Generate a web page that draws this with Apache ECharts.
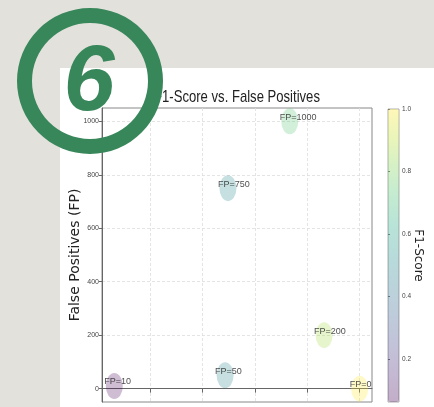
<!DOCTYPE html>
<html>
<head>
<meta charset="utf-8">
<script src="https://cdn.jsdelivr.net/npm/echarts@6/dist/echarts.min.js"></script>
<style>
html,body{margin:0;padding:0;background:#e3e1dc;}
#chart{width:434px;height:407px;}
</style>
</head>
<body>
<div id="chart"></div>
<script>
// ---- data ----
var fpValues = [10, 50, 750, 1000, 200, 0];
var f1Scores = [0.063, 0.486, 0.497, 0.733, 0.864, 1.0];
var xTicks = [0.2, 0.4, 0.6, 0.8, 1.0];
var yTicks = [0, 200, 400, 600, 800, 1000];
var cbTicks = [0.2, 0.4, 0.6, 0.8, 1.0];
var titleText = 'F1-Score vs. False Positives';
var yName = 'False Positives (FP)';
var cbName = 'F1-Score';

var viridis = ['#440154', '#482475', '#414487', '#355f8d', '#2a788e', '#21918c', '#22a884', '#44bf70', '#7ad151', '#bddf26', '#fde725'];
function withAlpha(hex, a) {
  var r = parseInt(hex.substr(1, 2), 16), g = parseInt(hex.substr(3, 2), 16), b = parseInt(hex.substr(5, 2), 16);
  return 'rgba(' + r + ',' + g + ',' + b + ',' + a + ')';
}
var paleViridis = viridis.map(function (c) { return withAlpha(c, 0.32); });

var points = f1Scores.map(function (f, i) { return [f, fpValues[i], 'FP=' + fpValues[i]]; });
var f1Min = Math.min.apply(null, f1Scores), f1Max = Math.max.apply(null, f1Scores);
var xPad = (f1Max - f1Min) * 0.05;

var sans = '"Liberation Sans", Arial, sans-serif';
var green = '#38875a';

var chart = echarts.init(document.getElementById('chart'));
chart.setOption({
  backgroundColor: '#e3e1dc',
  animation: false,
  graphic: [
    { type: 'rect', z: -10, shape: { x: 60, y: 68, width: 380, height: 350 }, style: { fill: '#ffffff' } },
    { type: 'text', z: 1, x: 237, y: 97, scaleX: 0.77,
      style: { text: titleText, x: 0, y: 0, font: '17px "Liberation Sans"', fill: '#222', align: 'center', verticalAlign: 'middle', textAlign: 'center', textVerticalAlign: 'middle' } },
    { type: 'ring', z: 100, shape: { cx: 90, cy: 81, r: 73, r0: 58 }, style: { fill: green } },
    { type: 'text', z: 100, style: { text: '6', x: 89, y: 85, font: 'italic bold 92px "Liberation Sans"', fill: green, align: 'center', verticalAlign: 'middle', textAlign: 'center', textVerticalAlign: 'middle' } }
  ],
  grid: [
    { left: 102, right: 62, top: 108, bottom: 5, outerBoundsMode: 'none', containLabel: false, show: true, borderColor: '#888', borderWidth: 1, backgroundColor: 'transparent' },
    { left: 388, top: 109, width: 11, height: 293, outerBoundsMode: 'none', containLabel: false, show: true, borderColor: '#999', borderWidth: 0.8 }
  ],
  xAxis: [
    {
      type: 'value', gridIndex: 0,
      min: +(f1Min - xPad).toFixed(3), max: +(f1Max + xPad).toFixed(3),
      axisLine: { show: true, lineStyle: { color: '#666' } },
      axisTick: { show: true, length: 4, customValues: xTicks, lineStyle: { color: '#666' } },
      axisLabel: { show: true, customValues: xTicks, fontFamily: sans, fontSize: 7, color: '#444', formatter: function (v) { return v.toFixed(1); } },
      splitLine: { show: true, lineStyle: { color: '#ddd', type: [3, 2], width: 0.8 } }
    },
    { type: 'value', gridIndex: 1, min: 0, max: 1, show: false }
  ],
  yAxis: [
    {
      type: 'value', gridIndex: 0, min: -50, max: 1050,
      name: yName, nameLocation: 'middle', nameGap: 20, nameMoveOverlap: false,
      nameTextStyle: { fontFamily: 'DejaVu Sans', fontSize: 14, color: '#222' },
      axisLine: { show: true, lineStyle: { color: '#666' } },
      axisTick: { show: true, length: 3, customValues: yTicks, lineStyle: { color: '#666' } },
      axisLabel: { customValues: yTicks, margin: 3, fontFamily: sans, fontSize: 7, color: '#444', formatter: function (v) { return String(v); } },
      splitLine: { show: true, lineStyle: { color: '#ddd', type: [3, 2], width: 0.8 } }
    },
    {
      type: 'value', gridIndex: 1, position: 'right', min: f1Min, max: f1Max,
      name: cbName, nameLocation: 'middle', nameRotate: -90, nameGap: 13, nameMoveOverlap: false,
      nameTextStyle: { fontFamily: 'DejaVu Sans', fontSize: 12, color: '#222' },
      axisLine: { show: false },
      axisTick: { show: true, length: 2, customValues: cbTicks, lineStyle: { color: '#777' } },
      axisLabel: { customValues: cbTicks, margin: 3, fontFamily: sans, fontSize: 6.5, color: '#444', formatter: function (v) { return v.toFixed(1); } },
      splitLine: { show: false }
    }
  ],
  visualMap: {
    type: 'continuous', seriesIndex: 0, dimension: 0,
    min: f1Min, max: f1Max, calculable: false, hoverLink: false,
    left: 388, top: 109, itemWidth: 11, itemHeight: 293, padding: 0,
    text: null, showLabel: false,
    inRange: { color: paleViridis },
    outOfRange: { color: 'rgba(255,255,255,0)' }
  },
  series: [
    {
      type: 'scatter', xAxisIndex: 0, yAxisIndex: 0, z: 5,
      symbol: 'circle', symbolSize: [17, 26],
      data: points,
      label: {
        show: true, position: [-1.5, 9], align: 'left', verticalAlign: 'middle',
        formatter: function (p) { return p.data[2]; },
        fontFamily: sans, fontSize: 9, color: '#222'
      }
    }
  ]
});
</script>
</body>
</html>
